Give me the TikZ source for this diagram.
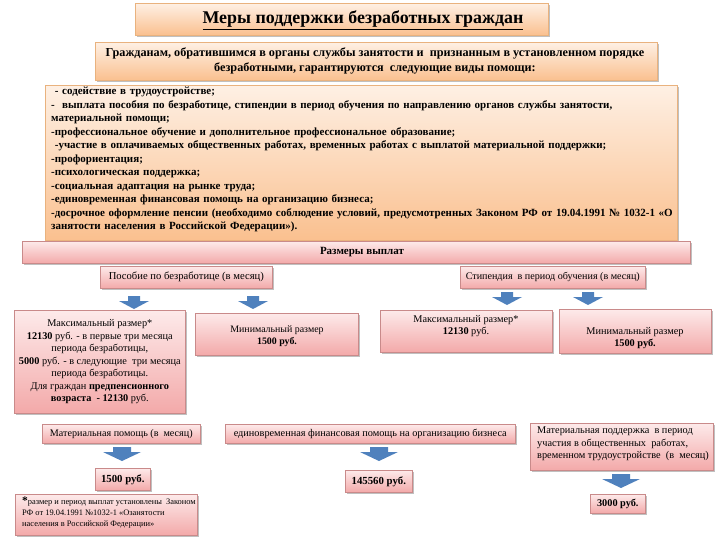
\documentclass[tikz,border=0pt]{standalone}
\usepackage{fontspec}
\setmainfont{Liberation Serif}
\usetikzlibrary{shadows}
\definecolor{otop}{HTML}{FEF0E4}
\definecolor{obot}{HTML}{FAC08F}
\definecolor{oline}{HTML}{E9B27E}
\definecolor{ptop}{HTML}{FDEAEA}
\definecolor{pbot}{HTML}{F3A9A9}
\definecolor{pline}{HTML}{C98A8A}
\definecolor{ablue}{HTML}{4F81BD}
\tikzset{
  shad/.style={drop shadow={shadow xshift=1.5pt,shadow yshift=-1.5pt,opacity=0.35,fill=black!70}},
  orangebox/.style={draw=oline, line width=0.6pt, top color=otop, bottom color=obot, shad, anchor=north west, inner sep=0pt},
  pinkbox/.style={draw=pline, line width=0.6pt, top color=ptop, bottom color=pbot, shad, anchor=north west, inner sep=0pt},
  txt/.style={inner sep=0pt, align=center},
  sm/.style={font=\fontsize{10.3}{12.5}\selectfont},
  pics/darrow/.style n args={4}{code={
    \fill[ablue] (-#1,0) -- (#1,0) -- (#1,#3) -- (#2,#3) -- (0,#4) -- (-#2,#3) -- (-#1,#3) -- cycle;}},
}
\begin{document}
\begin{tikzpicture}[x=1pt,y=-1pt]
\useasboundingbox (0,0) rectangle (720,540);
\fill[white] (0,0) rectangle (720,540);

% title
\node[orangebox, minimum width=413pt, minimum height=32pt] (title) at (135,3) {};
\node[txt, font=\fontsize{17.9}{21}\selectfont\bfseries] (titlet) at (363,20) {\underline{Меры поддержки безработных граждан}};

% subtitle
\node[orangebox, minimum width=562pt, minimum height=38pt] (sub) at (95,42) {};
\node[txt, font=\fontsize{12.2}{14.5}\selectfont\bfseries] (subt) at (375,61) {Гражданам, обратившимся в органы службы занятости и \ признанным в установленном порядке\\ безработными, гарантируются \ следующие виды помощи:};

% list
\node[orangebox, minimum width=632pt, minimum height=155pt] (list) at (45,85) {};
\node[inner sep=0pt, anchor=north west, text width=660pt, align=left, font=\fontsize{11}{13.5}\selectfont\bfseries] (listt) at (51,87) {%
\ - содействие в трудоустройстве;\\
- \ выплата пособия по безработице, стипендии в период обучения по направлению органов службы занятости,\\
материальной помощи;\\
-профессиональное обучение и дополнительное профессиональное образование;\\
\ -участие в оплачиваемых общественных работах, временных работах с выплатой материальной поддержки;\\
-профориентация;\\
-психологическая поддержка;\\
-социальная адаптация на рынке труда;\\
-единовременная финансовая помощь на организацию бизнеса;\\
-досрочное оформление пенсии (необходимо соблюдение условий, предусмотренных Законом РФ от 19.04.1991 №~1032-1~«О\\
занятости населения в Российской Федерации»).};

% payments bar
\node[pinkbox, minimum width=668pt, minimum height=22pt] (pay) at (22,241) {};
\node[txt, font=\fontsize{11}{13}\selectfont\bfseries] (payt) at (362,252) {Размеры выплат};

% category boxes
\node[pinkbox, minimum width=172pt, minimum height=22pt] (posob) at (100,266) {};
\node[txt, font=\fontsize{10.6}{12}\selectfont] at (posob.center) {Пособие по безработице (в месяц)};
\node[pinkbox, minimum width=185pt, minimum height=22pt] (stip) at (460,266) {};
\node[txt, font=\fontsize{10.1}{12}\selectfont] at (stip.center) {Стипендия \ в период обучения (в месяц)};

% arrows row 1
\pic (a1) at (134,296) {darrow={6}{15}{5}{13}};
\pic (a2) at (253,296) {darrow={6}{15}{5}{13}};
\pic (a3) at (507,292) {darrow={6}{15}{5}{13}};
\pic (a4) at (588,292) {darrow={6}{15}{5}{13}};

% value boxes row 1
\node[pinkbox, minimum width=171pt, minimum height=103pt] (max1) at (14,310) {};
\node[txt, sm] at (max1.center) {Максимальный размер*\\
\textbf{12130} руб. - в первые три месяца\\ периода безработицы,\\
\textbf{5000} руб. - в следующие \ три месяца\\ периода безработицы.\\
Для граждан \textbf{предпенсионного}\\ \textbf{возраста \ - 12130} руб.};
\node[pinkbox, minimum width=163pt, minimum height=42pt] (min1) at (195,313) {};
\node[txt, font=\fontsize{9.9}{12.5}\selectfont] at (277,336) {Минимальный размер\\ \textbf{1500 руб.}};
\node[pinkbox, minimum width=172pt, minimum height=42pt] (max2) at (380,310) {};
\node[txt, sm, anchor=north] at (466,315) {Максимальный размер*\\ \textbf{12130} руб.};
\node[pinkbox, minimum width=152pt, minimum height=44pt] (min2) at (559,309) {};
\node[txt, sm] at (635,338) {Минимальный размер\\ \textbf{1500 руб.}};

% second row categories
\node[pinkbox, minimum width=158pt, minimum height=19pt] (mat) at (42,424) {};
\node[txt, font=\fontsize{10.1}{12}\selectfont] at (mat.center) {Материальная помощь (в \ месяц)};
\node[pinkbox, minimum width=290pt, minimum height=19pt] (biz) at (225,424) {};
\node[txt, font=\fontsize{10.3}{12}\selectfont] at (biz.center) {единовременная финансовая помощь на организацию бизнеса};
\node[pinkbox, minimum width=183pt, minimum height=47pt] (pod) at (530,423) {};
\node[inner sep=0pt, anchor=north west, align=left, sm] at (537,427) {Материальная поддержка \ в период\\ участия в общественных \ работах,\\ временном трудоустройстве \ (в \ месяц)};

% arrows row 2
\pic (a5) at (122,447) {darrow={9}{19}{5}{14}};
\pic (a6) at (379,447) {darrow={9}{19}{5}{14}};
\pic (a7) at (621,474) {darrow={9}{19}{5}{14}};

% result boxes
\node[pinkbox, minimum width=55pt, minimum height=22pt] (r1) at (95,468) {};
\node[txt, font=\fontsize{10.8}{12}\selectfont\bfseries] at (r1.center) {1500 руб.};
\node[pinkbox, minimum width=67pt, minimum height=22pt] (r2) at (345,470) {};
\node[txt, font=\fontsize{10.8}{12}\selectfont\bfseries] at (r2.center) {145560 руб.};
\node[pinkbox, minimum width=55pt, minimum height=19pt] (r3) at (590,494) {};
\node[txt, font=\fontsize{10.3}{12}\selectfont\bfseries] at (r3.center) {3000 руб.};

% footnote
\node[pinkbox, minimum width=182pt, minimum height=41pt] (foot) at (15,494) {};
\node[inner sep=0pt, anchor=north west, align=left, font=\fontsize{8.4}{10.8}\selectfont] at (22,497) {\textbf{\fontsize{11.5}{11}\selectfont*}размер и период выплат установлены \ Законом\\ РФ от 19.04.1991 №1032-1 «Озанятости\\ населения в Российской Федерации»};
\end{tikzpicture}
\end{document}
